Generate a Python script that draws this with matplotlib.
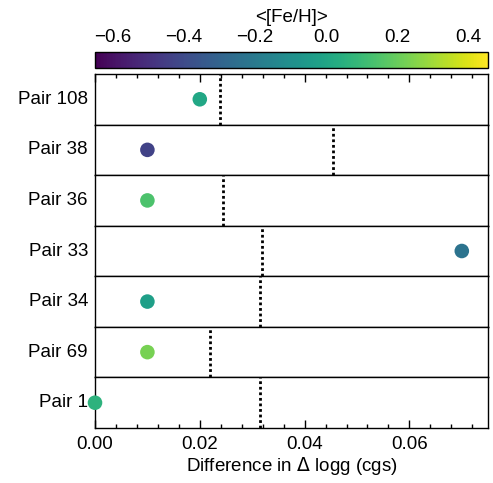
import matplotlib
matplotlib.use("Agg")
import matplotlib.pyplot as plt
import numpy as np
from matplotlib.ticker import MultipleLocator

plt.rcParams['font.family'] = ['Liberation Sans', 'DejaVu Sans']

pairs = ["Pair 108", "Pair 38", "Pair 36", "Pair 33", "Pair 34", "Pair 69", "Pair 1"]
dlogg = [0.020, 0.010, 0.010, 0.070, 0.010, 0.010, 0.000]
threshold = [0.0239, 0.0455, 0.0244, 0.0319, 0.0315, 0.0219, 0.0314]
feh = [0.01, -0.43, 0.14, -0.23, -0.03, 0.23, 0.06]

vmin, vmax = -0.65, 0.455
W, H = 493, 483
fig = plt.figure(figsize=(W / 100, H / 100), dpi=100)

left, right = 95 / W, 488 / W
top, bottom = 1 - 74 / H, 1 - 428 / H
n = len(pairs)
ph = (top - bottom) / n
cmap = plt.get_cmap('viridis')
norm = matplotlib.colors.Normalize(vmin=vmin, vmax=vmax)
FS = 13.5

axes = []
for i, (p, x, t, f) in enumerate(zip(pairs, dlogg, threshold, feh)):
    ax = fig.add_axes([left, top - (i + 1) * ph, right - left, ph])
    ax.axvline(t, color='black', ls=(0, (1, 1)), lw=2)
    ax.scatter([x], [0.5], c=[f], cmap=cmap, norm=norm, s=110, clip_on=False, zorder=5, edgecolors='none')
    ax.set_xlim(0, 0.075)
    ax.set_ylim(0, 1)
    ax.set_yticks([])
    ax.xaxis.set_major_locator(MultipleLocator(0.02))
    ax.xaxis.set_minor_locator(MultipleLocator(0.004))
    ax.tick_params(axis='x', which='major', direction='in', length=6, width=1, labelsize=FS, pad=6,
                   top=(i == 0), bottom=(i == n - 1), labelbottom=(i == n - 1))
    ax.tick_params(axis='x', which='minor', direction='in', length=3, width=1,
                   top=(i == 0), bottom=(i == n - 1))
    for s in ax.spines.values():
        s.set_linewidth(1)
    ax.text(-0.018, 0.5, p, transform=ax.transAxes, ha='right', va='center', fontsize=FS)
    axes.append(ax)

axes[-1].set_xlabel(r"Difference in $\Delta$ logg (cgs)", fontsize=FS, labelpad=1)
axes[-1].xaxis.set_major_formatter(matplotlib.ticker.FormatStrFormatter('%.2f'))

cax = fig.add_axes([left, 1 - 68 / H, right - left, 16 / H])
sm = matplotlib.cm.ScalarMappable(norm=norm, cmap=cmap)
cb = fig.colorbar(sm, cax=cax, orientation='horizontal')
cb.ax.xaxis.set_ticks_position('top')
cb.ax.xaxis.set_label_position('top')
cb.set_ticks([-0.6, -0.4, -0.2, 0.0, 0.2, 0.4])
cb.ax.tick_params(labelsize=FS, length=0, pad=4)
cb.set_label('<[Fe/H]>', fontsize=FS, labelpad=5)
cb.outline.set_linewidth(1)

fig.savefig("out.png", dpi=100)
